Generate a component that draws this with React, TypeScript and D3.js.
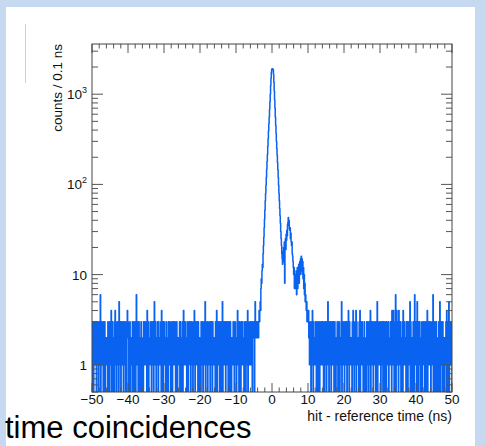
import React from "react";
import * as d3 from "d3";

// ---- data (counts per 0.1 ns bin) ----
// background, -50 ns .. -4 ns (one group = 1 ns = 10 bins)
const leftNoise: string[] = [
  "3213021231", "2301321203", "1326021312", "2031230212", "1220312103",
  "3124021301", "2103413202", "1322051231", "0312231023", "2130210342",
  "3201231021", "1230312203", "2016321302", "3120213021", "1203312312",
  "2304123021", "1231203213", "3025213102", "2132031221", "1304212031",
  "3212023120", "2031321203", "1220312312", "3102231021", "2213031202",
  "1302412131", "2120312023", "3213021312", "0231420312", "2312031220",
  "1203213102", "2312503121", "3021231203", "1232031212", "2103124031",
  "3212031302", "1250213213", "2031223102", "3120312021", "1232102312",
  "2013421203", "3210231322", "1203213021", "2340312123", "1321203223",
  "3025323232",
];
// signal, -4.0 ns .. 9.9 ns
const peakCounts: number[] = [
  2, 3, 2, 3, 4, 3, 4, 5, 4, 7,
  9, 8, 11, 13, 12, 17, 21, 26, 33, 41,
  52, 66, 80, 98, 120, 148, 180, 215, 265, 320,
  390, 470, 560, 680, 820, 1000, 1250, 1500, 1750, 1880,
  1920, 1910, 1900, 1860, 1650, 1350, 1080, 860, 700, 560,
  450, 370, 300, 250, 210, 175, 145, 120, 98, 80,
  66, 54, 45, 37, 30, 25, 21, 17, 15, 13,
  18, 14, 20, 16, 23, 8, 21, 25, 19, 28,
  24, 31, 27, 36, 38, 43, 35, 40, 32, 31,
  33, 25, 29, 23, 21, 23, 17, 16, 14, 12,
  10, 12, 7, 9, 7, 10, 7, 11, 6, 9,
  12, 7, 11, 9, 13, 8, 12, 14, 10, 15,
  12, 16, 11, 15, 10, 14, 9, 12, 7, 10,
  6, 8, 5, 6, 5, 4, 5, 3, 4, 3,
];
// background, 10 ns .. 50 ns
const rightNoise: string[] = [
  "3423121302", "2142031221", "1320312023", "2103221312", "3120302131",
  "2031251203", "1223021312", "3102312021", "2310213202", "1235021312",
  "2031223103", "3142031212", "2103241302", "1324031221", "2031402312",
  "3120213021", "1203312203", "2314021312", "3021231203", "2150312123",
  "1203221302", "3120312031", "2213021213", "1304213420", "2316024131",
  "3041213202", "1230421312", "2103213021", "3125031202", "2031206213",
  "1205312031", "3120213022", "2312031203", "1402312131", "3021231602",
  "2130213021", "1203125031", "3120312202", "2213041203", "1502312131",
];

const xMin = -50;
const binWidth = 0.1;
const xTickValues = [-50, -40, -30, -20, -10, 0, 10, 20, 30, 40, 50];
const yTickValues = [1, 10, 100, 1000];
const yTickLabels = [["1", ""], ["10", ""], ["10", "2"], ["10", "3"]];

const FONT = "'Liberation Sans', Arial, Helvetica, sans-serif";
const BLUE = "#0a62f0";

export default function App() {
  const W = 485, H = 446;
  const L = 92, R = 452, T = 44, B = 392;
  const x = d3.scaleLinear().domain([-50, 50]).range([L, R]);
  const y = d3.scaleLog().domain([0.5, 3600]).range([B, T]);

  const counts: number[] = [
    ...leftNoise.join("").split("").map(Number),
    ...peakCounts,
    ...rightNoise.join("").split("").map(Number),
  ];

  const yv = (v: number) => (v > 0 ? y(v) : B + 20);
  let d = `M${x(xMin)},${B + 20}`;
  counts.forEach((v, i) => {
    const x1 = x(xMin + (i + 1) * binWidth);
    d += `V${yv(v)}H${x1}`;
  });
  d += `V${B + 20}`;

  const xMinor = d3.range(-50, 50.01, 2).filter((v) => Math.abs(v % 10) > 0.01);
  const yMinor: number[] = [];
  [0.1, 1, 10, 100, 1000].forEach((dec) => {
    for (let k = 2; k <= 9; k++) {
      const v = k * dec;
      if (v >= 0.5 && v <= 3600) yMinor.push(v);
    }
  });

  const tickColor = "#555";
  return (
    <svg
      width={W}
      height={H}
      style={{ position: "fixed", left: 0, top: 0, display: "block" }}
      fontFamily={FONT}
    >
      <rect x={0} y={0} width={W} height={H} fill="#c6d9f1" />
      <rect x={6} y={7} width={469} height={H - 7} fill="#ffffff" />
      <line x1={25.5} x2={25.5} y1={24} y2={83} stroke="#d0d0d0" strokeWidth={1} />

      <defs>
        <clipPath id="frame">
          <rect x={L} y={T} width={R - L} height={B - T} />
        </clipPath>
      </defs>

      <path
        d={d}
        fill="none"
        stroke={BLUE}
        strokeWidth={1.5}
        strokeLinejoin="round"
        clipPath="url(#frame)"
      />

      {/* x ticks */}
      {xTickValues.map((v) => (
        <g key={"xt" + v}>
          <line x1={x(v)} x2={x(v)} y1={B} y2={B - 9} stroke={tickColor} />
          <line x1={x(v)} x2={x(v)} y1={T} y2={T + 9} stroke={tickColor} />
          <text x={x(v)} y={404} textAnchor="middle" fontSize={13.5} fill="#111">
            {v < 0 ? "\u2212" + Math.abs(v) : String(v)}
          </text>
        </g>
      ))}
      {xMinor.map((v) => (
        <g key={"xm" + v}>
          <line x1={x(v)} x2={x(v)} y1={B} y2={B - 4.5} stroke={tickColor} />
          <line x1={x(v)} x2={x(v)} y1={T} y2={T + 4.5} stroke={tickColor} />
        </g>
      ))}

      {/* y ticks */}
      {yTickValues.map((v, i) => (
        <g key={"yt" + v}>
          <line x1={L} x2={L + 11} y1={y(v)} y2={y(v)} stroke={tickColor} />
          <line x1={R} x2={R - 11} y1={y(v)} y2={y(v)} stroke={tickColor} />
          <text x={yTickLabels[i][1] ? 82 : 87} y={y(v) + 5} textAnchor="end" fontSize={13.5} fill="#111">
            {yTickLabels[i][0]}
          </text>
          {yTickLabels[i][1] && (
            <text x={82} y={y(v) - 1} textAnchor="start" fontSize={9} fill="#111">
              {yTickLabels[i][1]}
            </text>
          )}
        </g>
      ))}
      {yMinor.map((v) => (
        <g key={"ym" + v}>
          <line x1={L} x2={L + 6} y1={y(v)} y2={y(v)} stroke={tickColor} />
          <line x1={R} x2={R - 6} y1={y(v)} y2={y(v)} stroke={tickColor} />
        </g>
      ))}

      <rect x={L} y={T} width={R - L} height={B - T} fill="none" stroke="#444" strokeWidth={1} />

      <text
        transform={`translate(62,${T}) rotate(-90)`}
        textAnchor="end"
        fontSize={13.5}
        fill="#111"
      >
        counts / 0.1 ns
      </text>
      <text x={R} y={421} textAnchor="end" fontSize={14} fill="#111">
        hit - reference time (ns)
      </text>
      <text x={5} y={438} fontSize={31} fill="#000">
        time coincidences
      </text>
    </svg>
  );
}
